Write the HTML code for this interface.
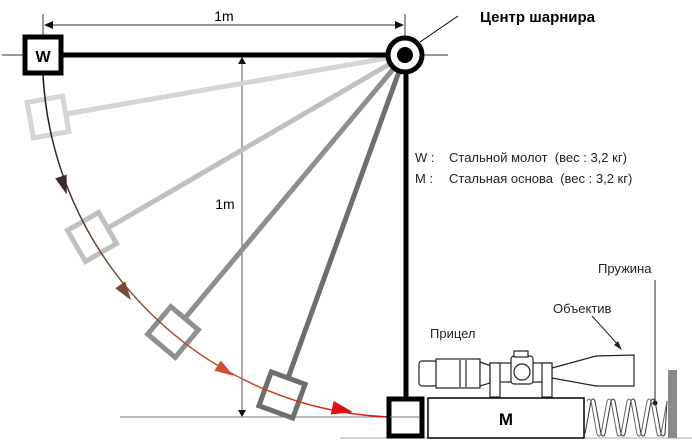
<!DOCTYPE html>
<html><head><meta charset="utf-8"><style>
html,body{margin:0;padding:0;background:#fff;}
svg{display:block;}
text{font-family:"Liberation Sans",sans-serif;}
</style></head><body>
<svg width="692" height="441" viewBox="0 0 692 441" xmlns="http://www.w3.org/2000/svg">
<defs>
<linearGradient id="g" gradientUnits="userSpaceOnUse" x1="43" y1="60" x2="390" y2="417">
<stop offset="0" stop-color="#111"/><stop offset="0.4" stop-color="#7a4a38"/><stop offset="0.7" stop-color="#c8502a"/><stop offset="1" stop-color="#e01010"/>
</linearGradient>
</defs>
<line x1="43" y1="14" x2="43" y2="80" stroke="#333" stroke-width="1"/>
<line x1="405" y1="14" x2="405" y2="40" stroke="#333" stroke-width="1"/>
<line x1="46" y1="25" x2="402" y2="25" stroke="#333" stroke-width="1"/>
<polygon points="44,25 53,21 53,29" fill="#111"/>
<polygon points="404,25 395,21 395,29" fill="#111"/>
<text x="224" y="21" font-size="14" text-anchor="middle">1m</text>
<line x1="2" y1="55" x2="24" y2="55" stroke="#333"/>
<line x1="420" y1="55" x2="448" y2="55" stroke="#333"/>
<line x1="242" y1="60" x2="242" y2="412" stroke="#555"/>
<polygon points="242,57 238,64 246,64" fill="#111"/>
<polygon points="242,417 238,410 246,410" fill="#111"/>
<text x="225" y="209" font-size="14" text-anchor="middle">1m</text>
<line x1="120" y1="417" x2="390" y2="417" stroke="#777"/>
<line x1="340" y1="438" x2="692" y2="438" stroke="#aaa"/>
<g stroke="#d5d5d5" stroke-width="5" fill="none">
<line x1="405" y1="55" x2="66" y2="114"/>
<rect x="-18" y="-18" width="36" height="36" transform="translate(48,117) rotate(-10)"/>
</g>
<g stroke="#c0c0c0" stroke-width="5" fill="none">
<line x1="405" y1="55" x2="108" y2="228"/>
<rect x="-18" y="-18" width="36" height="36" transform="translate(92,237) rotate(-30)"/>
</g>
<g stroke="#8f8f8f" stroke-width="5" fill="none">
<line x1="405" y1="55" x2="185" y2="318"/>
<rect x="-18" y="-18" width="36" height="36" transform="translate(173,332) rotate(-50)"/>
</g>
<g stroke="#6e6e6e" stroke-width="5" fill="none">
<line x1="405" y1="55" x2="288" y2="378"/>
<rect x="-18" y="-18" width="36" height="36" transform="translate(282,395) rotate(-70)"/>
</g>
<path d="M43,75 A362,362 0 0 0 390,417" stroke="url(#g)" stroke-width="1.5" fill="none"/>
<polygon points="-10,-6 9,0 -10,6" fill="#3a2a28" transform="translate(64,186) rotate(72)"/>
<polygon points="-10,-6 9,0 -10,6" fill="#7a4a38" transform="translate(126,293) rotate(55)"/>
<polygon points="-10,-6 9,0 -10,6" fill="#c8502a" transform="translate(226,371) rotate(33)"/>
<polygon points="-11,-7 10,0 -11,7" fill="#e01010" transform="translate(343,410) rotate(12)"/>
<line x1="62" y1="55" x2="405" y2="55" stroke="#000" stroke-width="5"/>
<rect x="25" y="37" width="36" height="36" fill="#fff" stroke="#000" stroke-width="5"/>
<text x="43" y="62" font-size="16" font-weight="bold" text-anchor="middle">W</text>
<line x1="406" y1="55" x2="406" y2="398" stroke="#000" stroke-width="5"/>
<circle cx="405" cy="55" r="17" fill="#fff" stroke="#000" stroke-width="5"/>
<circle cx="405" cy="55" r="8" fill="#000"/>
<line x1="420" y1="42" x2="458" y2="16" stroke="#000"/>
<text x="480" y="22" font-size="15" font-weight="bold">Центр шарнира</text>
<text x="415" y="162" font-size="13" fill="#222">W :</text>
<text x="449" y="162" font-size="13" fill="#222" xml:space="preserve">Стальной молот  (вес : 3,2 кг)</text>
<text x="415" y="183" font-size="13" fill="#222">M :</text>
<text x="449" y="183" font-size="13" fill="#222" xml:space="preserve">Стальная основа  (вес : 3,2 кг)</text>
<rect x="389" y="399" width="33" height="37" fill="#fff" stroke="#000" stroke-width="5"/>
<line x1="390" y1="417" x2="420" y2="417" stroke="#777"/>
<rect x="428" y="398" width="156" height="40" fill="#fff" stroke="#000" stroke-width="1.5"/>
<text x="506" y="425" font-size="17" font-weight="bold" text-anchor="middle">M</text>
<path d="M585,434 L591,401 Q593,397 595,401 L601,434 Q603,438 605,434 L611,401 Q613,397 615,401 L621,434 Q623,438 625,434 L631,401 Q633,397 635,401 L641,434 Q643,438 645,434 L651,401 Q653,397 655,401 L661,434 Q663,438 665,434 L667,401" fill="none" stroke="#333" stroke-width="1"/>
<path d="M587,401 Q589,397 591,401 L597,434 Q599,438 601,434 L607,401 Q609,397 611,401 L617,434 Q619,438 621,434 L627,401 Q629,397 631,401 L637,434 Q639,438 641,434 L647,401 Q649,397 651,401 L657,434 Q659,438 661,434 L667,401" fill="none" stroke="#666" stroke-width="1"/>
<rect x="668" y="370" width="9" height="68" fill="#8a8a8a"/>
<g stroke="#222" stroke-width="1.2" fill="#fff">
<rect x="419" y="361" width="18" height="25" rx="3"/>
<rect x="436" y="359" width="44" height="29"/>
<polygon points="480,362 500,369 500,380 480,386"/>
<rect x="490" y="363" width="62" height="19"/>
<polygon points="552,368 596,356 634,355 634,386 596,386 552,378"/>
<rect x="490" y="363" width="10" height="34"/>
<rect x="542" y="363" width="10" height="34"/>
<rect x="511" y="356" width="22" height="28" rx="3"/>
<circle cx="522" cy="372" r="8"/>
<rect x="514" y="351" width="14" height="6"/>
<line x1="460" y1="360" x2="460" y2="387"/>
<line x1="466" y1="360" x2="466" y2="387"/>
</g>
<text x="430" y="338" font-size="13" fill="#222">Прицел</text>
<text x="553" y="313" font-size="13" fill="#222">Объектив</text>
<text x="598" y="273" font-size="13" fill="#222">Пружина</text>
<line x1="592" y1="316" x2="620" y2="347" stroke="#222"/>
<polygon points="622,350 614,345 618,341" fill="#222"/>
<line x1="655" y1="280" x2="655" y2="402" stroke="#222"/>
<circle cx="655" cy="403" r="2.5" fill="#222"/>
</svg>
</body></html>
